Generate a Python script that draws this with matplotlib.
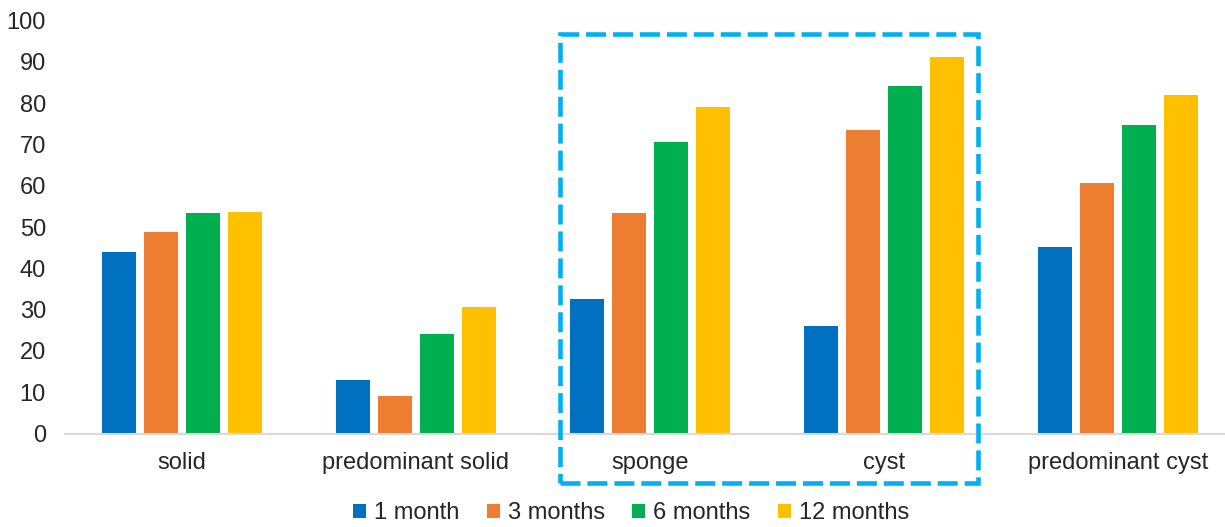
import matplotlib
matplotlib.use("Agg")
import matplotlib.pyplot as plt
import numpy as np
from matplotlib.patches import Rectangle

categories = ["solid", "predominant solid", "sponge", "cyst", "predominant cyst"]
series_names = ["1 month", "3 months", "6 months", "12 months"]
one_month = [44.0, 13.0, 32.5, 26.0, 45.2]
three_months = [48.7, 9.2, 53.3, 73.6, 60.7]
six_months = [53.3, 24.2, 70.7, 84.1, 74.8]
twelve_months = [53.6, 30.7, 79.1, 91.2, 82.0]
y_ticks = [0, 10, 20, 30, 40, 50, 60, 70, 80, 90, 100]

colors = ["#0070C0", "#ED7D31", "#00B050", "#FFC000"]
text_color = "#262626"
fs = 17

plt.rcParams["font.family"] = ["Liberation Sans", "DejaVu Sans"]

fig = plt.figure(figsize=(12.25, 5.27), dpi=100)
ax = fig.add_axes([65 / 1225, 93.5 / 527, 1160 / 1225, 413 / 527])

x = np.arange(len(categories))
bar_w = 0.145
pitch = 0.18
series = [one_month, three_months, six_months, twelve_months]
for i, (vals, name, c) in enumerate(zip(series, series_names, colors)):
    ax.bar(x + (i - 1.5) * pitch, vals, width=bar_w, color=c, label=name, zorder=2)

ax.set_xlim(-0.5, -0.5 + 1160 / 234)
ax.set_ylim(0, 100)
ax.set_yticks(y_ticks)
ax.set_xticks(x)
ax.set_xticklabels(categories)
ax.tick_params(axis="y", length=0, pad=13.7, labelsize=fs, labelcolor=text_color)
ax.tick_params(axis="x", length=0, pad=13, labelsize=fs, labelcolor=text_color)
for s in ["top", "right", "left"]:
    ax.spines[s].set_visible(False)
ax.spines["bottom"].set_color("#D9D9D9")
ax.spines["bottom"].set_linewidth(1.5)

# highlight box around the sponge and cyst groups
lw = 3.3
box = Rectangle((560 / 1225, 1 - 483 / 527), (978 - 560) / 1225, (483 - 34) / 527,
                transform=fig.transFigure, fill=False, edgecolor="#00B0F0",
                linewidth=lw, linestyle=(0, (14.4 / lw, 5.0 / lw)), zorder=5)
fig.patches.append(box)

fig.legend(loc="center", bbox_to_anchor=(631 / 1225, 14 / 527), ncol=4,
           frameon=False, fontsize=fs, handlelength=0.55, handleheight=0.55,
           handletextpad=0.35, columnspacing=1.15, labelcolor=text_color,
           borderpad=0, borderaxespad=0)

fig.savefig("out.png", dpi=100)
